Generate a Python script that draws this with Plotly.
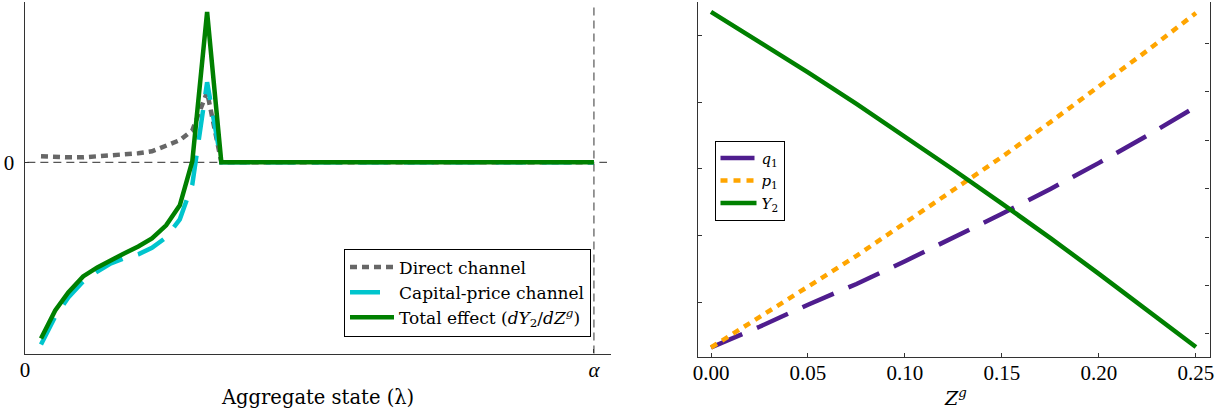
import plotly.graph_objects as go

# ---------------- Left panel data (x in units of alpha) ----------------
lam = [0.028, 0.053, 0.076, 0.102, 0.127, 0.151, 0.174, 0.199, 0.223, 0.248,
       0.272, 0.294, 0.320, 0.345, 1.0]
direct = [0.040, 0.033, 0.033, 0.033, 0.040, 0.040, 0.047, 0.060, 0.073, 0.107,
          0.147, 0.213, 0.467, 0.0, 0.0]
capital = [-1.213, -1.027, -0.900, -0.793, -0.727, -0.673, -0.640, -0.613, -0.570, -0.500,
           -0.380, -0.147, 0.533, 0.0, 0.0]
total = [-1.173, -0.987, -0.867, -0.760, -0.700, -0.650, -0.607, -0.560, -0.507, -0.420,
         -0.287, 0.007, 1.0, 0.0, 0.0]
left_xticks = [0, 1]
left_xticktext = ["0", "<i>α</i>"]
left_yticks = [0]
left_yticktext = ["0"]

# ---------------- Right panel data ----------------
Zg = [0.0, 0.025, 0.05, 0.075, 0.10, 0.125, 0.15, 0.175, 0.20, 0.225, 0.25]
q1 = [0.933, 0.964, 0.997, 1.028, 1.062, 1.097, 1.133, 1.170, 1.209, 1.250, 1.293]
p1 = [0.933, 0.978, 1.024, 1.070, 1.119, 1.168, 1.218, 1.270, 1.323, 1.377, 1.433]
Y2 = [2.665, 2.603, 2.540, 2.475, 2.408, 2.339, 2.269, 2.198, 2.124, 2.049, 1.973]
right_xticks = [0.0, 0.05, 0.10, 0.15, 0.20, 0.25]
right_xticktext = ["0.00", "0.05", "0.10", "0.15", "0.20", "0.25"]
left_price_ticks = [1.0, 1.1, 1.2, 1.3, 1.4]
right_output_ticks = [2.0, 2.1, 2.2, 2.3, 2.4, 2.5, 2.6]

W, H = 1223, 415
TICKFONT = "Liberation Serif"
TEXTFONT = "DejaVu Serif"
AX = "#333333"

fig = go.Figure()

# Left panel traces
fig.add_trace(go.Scatter(x=lam, y=direct, mode="lines", name="Direct channel",
                         line=dict(color="#676767", width=4.5, dash="7px,5px"),
                         xaxis="x", yaxis="y", legend="legend"))
fig.add_trace(go.Scatter(x=lam, y=capital, mode="lines", name="Capital-price channel",
                         line=dict(color="#00C5CD", width=4.5, dash="30px,16px"),
                         xaxis="x", yaxis="y", legend="legend"))
fig.add_trace(go.Scatter(x=lam, y=total, mode="lines",
                         name="Total effect (<i>dY</i><sub>2</sub>/<i>dZ</i><sup><i>g</i></sup>)",
                         line=dict(color="#008000", width=4.5),
                         xaxis="x", yaxis="y", legend="legend"))

# Right panel traces
fig.add_trace(go.Scatter(x=Zg, y=q1, mode="lines", name="<i>q</i><sub>1</sub>",
                         line=dict(color="#4F1D8E", width=4.5, dash="34px,16px"),
                         xaxis="x2", yaxis="y2", legend="legend2"))
fig.add_trace(go.Scatter(x=Zg, y=p1, mode="lines", name="<i>p</i><sub>1</sub>",
                         line=dict(color="#FFA500", width=4.5, dash="7px,6px"),
                         xaxis="x2", yaxis="y2", legend="legend2"))
fig.add_trace(go.Scatter(x=Zg, y=Y2, mode="lines", name="<i>Y</i><sub>2</sub>",
                         line=dict(color="#008000", width=4.5),
                         xaxis="x2", yaxis="y3", legend="legend2"))

ldom_x = [24.5 / W, 611 / W]
ldom_y = [1 - 353.5 / H, 1 - 2 / H]
rdom_x = [698 / W, 1209.5 / W]
rdom_y = [1 - 357 / H, 1 - 2 / H]

axis_common = dict(showgrid=False, zeroline=False, showline=True, linecolor=AX,
                   linewidth=1.2, ticks="inside", ticklen=4, tickcolor=AX,
                   tickfont=dict(family=TICKFONT, size=21, color="black"),
                   automargin=False, fixedrange=True)

fig.update_layout(
    width=W, height=H,
    margin=dict(l=0, r=0, t=0, b=0),
    paper_bgcolor="white", plot_bgcolor="white",
    showlegend=True,
    xaxis=dict(domain=ldom_x, range=[-0.001, 1.03], tickvals=left_xticks,
               ticktext=left_xticktext, anchor="y", ticklabelstandoff=-3, **axis_common),
    yaxis=dict(domain=ldom_y, range=[-1.273, 1.067], tickvals=left_yticks,
               ticktext=left_yticktext, anchor="x", ticklabelstandoff=5, **axis_common),
    xaxis2=dict(domain=rdom_x, range=[-0.0067, 0.257], tickvals=right_xticks,
                ticktext=right_xticktext, anchor="y2", ticklabelstandoff=-3, **axis_common),
    yaxis2=dict(domain=rdom_y, range=[0.9188, 1.4495], tickvals=left_price_ticks,
                showticklabels=False, anchor="x2", **axis_common),
    yaxis3=dict(domain=rdom_y, range=[1.9525, 2.6852], tickvals=right_output_ticks,
                showticklabels=False, anchor="x2", overlaying="y2", side="right",
                **axis_common),
    legend=dict(x=591 / W, y=1 - 292.5 / H, xanchor="right", yanchor="middle",
                bgcolor="white", bordercolor="black", borderwidth=1,
                font=dict(family=TEXTFONT, size=17, color="black"), itemwidth=44,
                tracegroupgap=0),
    legend2=dict(x=714.5 / W, y=1 - 140.7 / H, xanchor="left", yanchor="top",
                 bgcolor="white", bordercolor="black", borderwidth=1,
                 font=dict(family=TEXTFONT, size=15, color="black"), itemwidth=36,
                 tracegroupgap=0),
    shapes=[
        dict(type="line", xref="x", yref="y", x0=0.004, x1=1.023, y0=0, y1=0,
             line=dict(color="#555555", width=1.2, dash="8px,5px"), layer="below"),
        dict(type="line", xref="x", yref="y domain", x0=1, x1=1, y0=0, y1=0.994,
             line=dict(color="#555555", width=1.2, dash="8px,5px"), layer="below"),
    ],
    annotations=[
        dict(text="Aggregate state (λ)", xref="paper", yref="paper",
             x=318 / W, y=1 - 397 / H, xanchor="center", yanchor="middle",
             showarrow=False, font=dict(family=TEXTFONT, size=19.5, color="black")),
        dict(text="<i>Z</i><sup><i>g</i></sup>", xref="paper", yref="paper",
             x=955 / W, y=1 - 397 / H, xanchor="center", yanchor="middle",
             showarrow=False, font=dict(family=TEXTFONT, size=19, color="black")),
    ],
)

fig.write_html("out.html",
               config={"displayModeBar": False},
               post_script="document.body.style.margin='0';document.body.style.padding='0';")
